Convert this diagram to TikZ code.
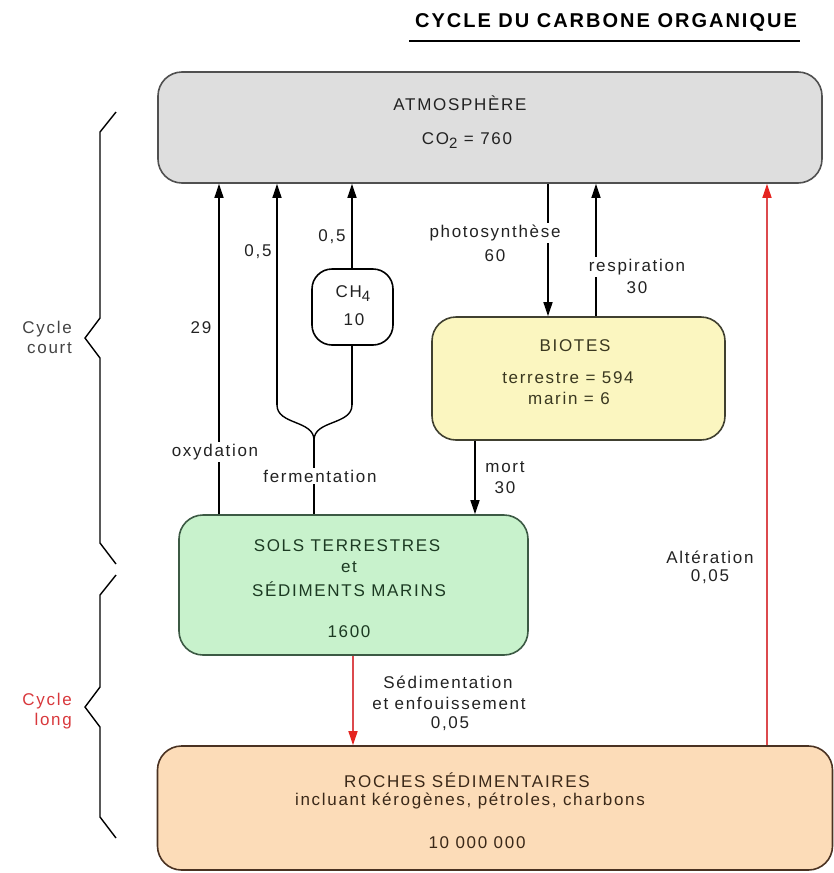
\documentclass[tikz,border=0pt]{standalone}
\usepackage{fontspec}
\setmainfont{Liberation Sans}[LetterSpace=10]
\usetikzlibrary{arrows.meta}
\definecolor{atmfill}{HTML}{DEDEDE}
\definecolor{atmdraw}{HTML}{505050}
\definecolor{biofill}{HTML}{FBF6C0}
\definecolor{biodraw}{HTML}{404030}
\definecolor{solfill}{HTML}{C8F2CC}
\definecolor{soldraw}{HTML}{3C5A44}
\definecolor{rocfill}{HTML}{FCDCB8}
\definecolor{rocdraw}{HTML}{4A3222}
\definecolor{txtcol}{HTML}{222222}
\definecolor{soltxt}{HTML}{1C3A22}
\definecolor{biotxt}{HTML}{3A3820}
\definecolor{roctxt}{HTML}{3A2818}
\definecolor{redline}{HTML}{DC4A4E}
\definecolor{redtip}{HTML}{E52420}
\definecolor{redtxt}{HTML}{D8383C}
\newcommand{\lowsub}[1]{\raisebox{-0.45ex}{\fontsize{15}{15}\selectfont #1}}
\begin{document}
\begin{tikzpicture}[x=1pt,y=-1pt,
  box/.style={draw, line width=1.6pt, rounded corners=24pt, inner sep=0pt},
  txt/.style={font=\fontsize{17}{20}\selectfont, text=txtcol, inner sep=1pt},
  lbl/.style={txt, fill=white, inner sep=2pt},
  ln/.style={line width=1.4pt, draw=black},
  arr/.style={ln, -{Triangle[length=14pt,width=9pt]}},
  redarr/.style={line width=1.4pt, draw=redline, -{Triangle[length=14pt,width=9pt,color=redtip]}},
  brace/.style={line width=1.4pt, draw=black, line join=miter}]
\useasboundingbox (0,0) rectangle (834,873);

% title
\node[font=\bfseries\fontsize{20}{23}\selectfont, inner sep=0pt] (title) at (606,22) {CYCLE DU CARBONE ORGANIQUE};
\coordinate (ulA) at (409,41);
\coordinate (ulB) at (800,41);
\draw[line width=2.6pt] (ulA) -- (ulB);

% boxes
\node[box, fill=atmfill, draw=atmdraw, minimum width=664pt, minimum height=111pt] (atm) at (490,127.5) {};
\node[box, fill=biofill, draw=biodraw, minimum width=293pt, minimum height=123pt] (bio) at (578.5,378.5) {};
\node[box, fill=solfill, draw=soldraw, minimum width=349pt, minimum height=140pt] (sol) at (353.5,585) {};
\node[box, fill=rocfill, draw=rocdraw, minimum width=675pt, minimum height=124pt] (roc) at (495,808) {};
\node[box, fill=white, draw=black, rounded corners=20pt, minimum width=81pt, minimum height=76pt] (ch4) at (352.5,307) {};

% box texts
\node[txt] (atmT) at (460,103) {ATMOSPHÈRE};
\node[txt] (atmV) at (467,141) {CO\lowsub{2} = 760};
\node[txt, text=biotxt] (bioT) at (575,346) {BIOTES};
\node[txt, text=biotxt] (bioA) at (568,378) {terrestre = 594};
\node[txt, text=biotxt] (bioB) at (569,398) {marin = 6};
\node[txt, text=soltxt] (solA) at (347,546) {SOLS TERRESTRES};
\node[txt, text=soltxt] (solB) at (349,567) {et};
\node[txt, text=soltxt] (solC) at (349,589) {SÉDIMENTS MARINS};
\node[txt, text=soltxt] (solD) at (349,632) {1600};
\node[txt, text=roctxt] (rocA) at (467,780) {ROCHES SÉDIMENTAIRES};
\node[txt, text=roctxt] (rocB) at (470,801) {incluant kérogènes, pétroles, charbons};
\node[txt, text=roctxt] (rocC) at (477,843) {10 000 000};
\node[txt] (ch4T) at (353,294) {CH\lowsub{4}};
\node[txt] (ch4V) at (354,320) {10};

% x positions of the flows
\coordinate (xOx) at (219,0);
\coordinate (xFe) at (314,0);
\coordinate (xFl) at (277,0);
\coordinate (xFr) at (352,0);
\coordinate (xPh) at (548,0);
\coordinate (xRe) at (596,0);
\coordinate (xMo) at (475,0);
\coordinate (xSe) at (353,0);
\coordinate (xAl) at (767,0);

% oxydation
\draw[arr] (sol.north -| xOx) -- (atm.south -| xOx);
\node[lbl] (oxL) at (215,452) {oxydation};
\node[txt] (oxV) at (201,328) {29};

% fermentation fork
\coordinate (fJ) at (314,440);
\coordinate (fL) at (277,405);
\coordinate (fR) at (352,405);
\draw[ln] (sol.north -| xFe) -- (fJ);
\draw[ln] (fJ) .. controls (314,420) and (277,425) .. (fL);
\draw[ln] (fJ) .. controls (314,420) and (352,425) .. (fR);
\draw[arr] (fL) -- (atm.south -| xFl);
\draw[ln] (fR) -- (ch4.south -| xFr);
\draw[arr] (ch4.north -| xFr) -- (atm.south -| xFr);
\node[lbl] (feL) at (320,476) {fermentation};
\node[txt] (feV) at (258,252) {0,5};
\node[txt] (chV) at (332,237) {0,5};

% photosynthese
\draw[arr] (atm.south -| xPh) -- (bio.north -| xPh);
\node[lbl] (phL) at (495,233) {photosynthèse};
\node[txt] (phV) at (495,256) {60};

% respiration
\draw[arr] (bio.north -| xRe) -- (atm.south -| xRe);
\node[lbl] (reL) at (637,267) {respiration};
\node[txt] (reV) at (637,288) {30};

% mort
\draw[arr] (bio.south -| xMo) -- (sol.north -| xMo);
\node[txt] (moL) at (505,467) {mort};
\node[txt] (moV) at (505,488) {30};

% sedimentation
\draw[redarr] (sol.south -| xSe) -- (roc.north -| xSe);
\node[txt] (seA) at (448,682) {Sédimentation};
\node[txt] (seB) at (449,703) {et enfouissement};
\node[txt] (seC) at (450,724) {0,05};

% alteration
\draw[redarr] (roc.north -| xAl) -- (atm.south -| xAl);
\node[txt] (alA) at (710,557) {Altération};
\node[txt] (alB) at (710,577) {0,05};

% braces
\draw[brace] (116,112) -- (100,132) -- (100,318) -- (85,338) -- (100,358) -- (100,543) -- (116,564);
\draw[brace] (116,575) -- (100,595) -- (100,687) -- (85,707) -- (100,727) -- (100,817) -- (116,838);
\node[txt, align=right, anchor=east, text=txtcol!85!white] (court) at (73,337) {Cycle\\court};
\node[txt, align=right, anchor=east, text=redtxt] (long) at (73,711) {Cycle\\long};
\end{tikzpicture}
\end{document}
